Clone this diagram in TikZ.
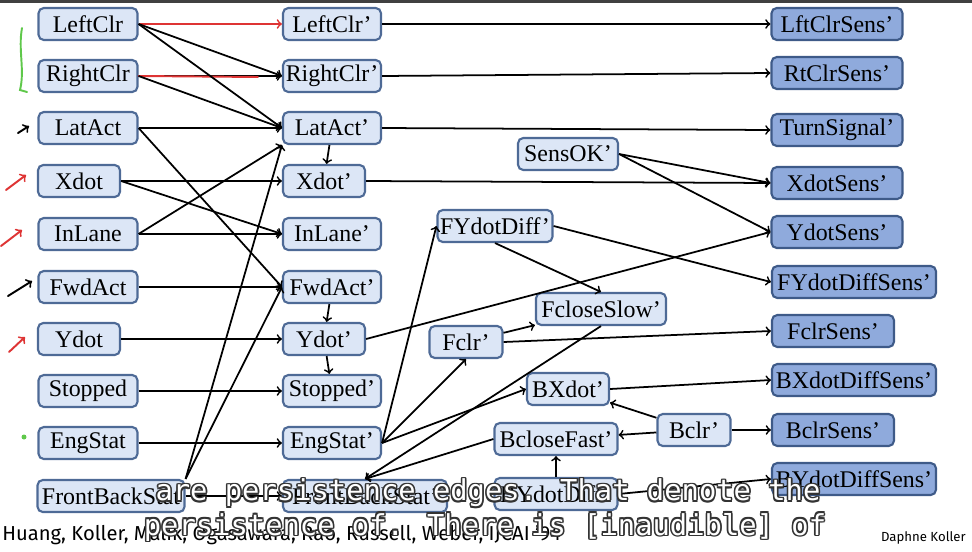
\documentclass[tikz,border=0pt]{standalone}
\usepackage{fontspec}
\setmainfont{Liberation Serif}
\newfontfamily\citefont{Fira Sans}
\newfontfamily\capfont{DejaVu Sans Mono}
\usepackage{xcolor}
\usepackage{tikz}
\usetikzlibrary{calc}

\definecolor{hidfill}{RGB}{220,230,246}
\definecolor{hidline}{RGB}{78,106,150}
\definecolor{sensfill}{RGB}{143,170,220}
\definecolor{sensline}{RGB}{62,90,136}
\definecolor{inkred}{RGB}{222,52,52}
\definecolor{inkgreen}{RGB}{95,200,75}

% one subtitle line: white text with a dark rim
\newcommand\capline[2]{%
    \foreach \dx/\dy in {-0.9/0, 0.9/0, 0/-0.9, 0/0.9, -0.7/-0.7, 0.7/0.7, -0.7/0.7, 0.7/-0.7}
        \node[subtl, text=black!80, xshift=\dx pt, yshift=\dy pt] at (#1) {#2};
    \node[subtl, text=white] at (#1) {#2};}

\begin{document}
\begin{tikzpicture}[x=0.02cm, y=-0.02cm, >=to,
    box/.style={draw=hidline, fill=hidfill, line width=1.2pt, rounded corners=3pt,
        minimum height=0.64cm, inner xsep=1.5pt, inner ysep=0pt,
        font=\fontsize{13.6}{16}\selectfont},
    sens/.style={box, draw=sensline, fill=sensfill},
    wd/.style={minimum width=#1*0.02cm},
    link/.style={->, line width=1pt},
    pen/.style={line width=1.1pt, line cap=round},
    subtl/.style={font=\capfont\fontsize{16.4}{18}\selectfont, inner sep=0pt}]
    \useasboundingbox (0,0) rectangle (972,551);
    \fill[black!75] (0,0) rectangle (972,3);

    % 1. Lat thoi diem t
    \node[box, wd=99] (lclr) at (88,24) {LeftClr};
    \node[box, wd=99] (rclr) at (88,76) {RightClr};
    \node[box, wd=99] (lat) at (88,128) {LatAct};
    \node[box, wd=82] (xd) at (79,181) {Xdot};
    \node[box, wd=99] (inl) at (88,234) {InLane};
    \node[box, wd=99] (fwd) at (88,287) {FwdAct};
    \node[box, wd=82] (yd) at (79,339) {Ydot};
    \node[box, wd=99] (stop) at (88,391) {Stopped};
    \node[box, wd=99] (eng) at (88,443) {EngStat};
    \node[box, wd=147] (fbs) at (111,496) {FrontBackStat};

    % Lat thoi diem t+1
    \node[box, wd=98] (lclrp) at (332,24) {LeftClr'};
    \node[box, wd=98] (rclrp) at (332,76) {RightClr'};
    \node[box, wd=98] (latp) at (332,128) {LatAct'};
    \node[box, wd=82] (xdp) at (324,181) {Xdot'};
    \node[box, wd=98] (inlp) at (332,234) {InLane'};
    \node[box, wd=98] (fwdp) at (332,287) {FwdAct'};
    \node[box, wd=82] (ydp) at (324,339) {Ydot'};
    \node[box, wd=98] (stopp) at (332,391) {Stopped'};
    \node[box, wd=98] (engp) at (332,443) {EngStat'};
    \node[box, wd=164] (fbsp) at (365,496) {FrontBackStat'};

    \node[box, wd=100] (sok) at (568,154) {SensOK'};
    \node[box, wd=115] (fyd) at (495,226) {FYdotDiff'};
    \node[box, wd=130] (fcs) at (601,309) {FcloseSlow'};
    \node[box, wd=73] (fclr) at (466,342) {Fclr'};
    \node[box, wd=82] (bxd) at (568,389) {BXdot'};
    \node[box, wd=123] (bcf) at (556,439) {BcloseFast'};
    \node[box, wd=73] (bclr) at (694,430) {Bclr'};
    \node[box, wd=123] (byd) at (556,494) {BYdotDiff'};

    % 2. Cac cam bien
    \node[sens, wd=131] (lclrs) at (837,24) {LftClrSens'};
    \node[sens, wd=131] (rclrs) at (837,73) {RtClrSens'};
    \node[sens, wd=131] (turn) at (837,130) {TurnSignal'};
    \node[sens, wd=131] (xds) at (837,183) {XdotSens'};
    \node[sens, wd=131] (yds) at (837,232) {YdotSens'};
    \node[sens, wd=164] (fyds) at (854,282) {FYdotDiffSens'};
    \node[sens, wd=122] (fclrs) at (833,331) {FclrSens'};
    \node[sens, wd=164] (bxds) at (854,380) {BXdotDiffSens'};
    \node[sens, wd=122] (bclrs) at (833,430) {BclrSens'};
    \node[sens, wd=164] (byds) at (854,479) {BYdotDiffSens'};

    % 3. Cung persistence va cung giua hai lat
    \draw[link, inkred] (lclr) -- (lclrp);
    \draw[link] (rclr) -- (rclrp);
    \coordinate (redend) at (258,77);
    \draw[pen, inkred] (rclr.east) -- (redend);
    \foreach \a in {lat, xd, inl, fwd, yd, stop, eng, fbs}
        \draw[link] (\a) -- (\a p);
    \draw[link] (lclr.east) -- (rclrp.west);
    \draw[link] (lclr.east) -- (latp.west);
    \draw[link] (rclr.east) -- (latp.west);
    \draw[link] (lat.east) -- (fwdp.west);
    \draw[link] (xd.east) -- (inlp.west);
    \draw[link] (inl.east) -- (latp.south west);
    \draw[link] (fbs.north east) -- (latp.south west);
    \draw[link] (fbs.north east) -- (fwdp.west);

    % Cung trong lat t+1
    \draw[link] (latp) -- (xdp);
    \draw[link] (fwdp) -- (ydp);
    \draw[link] (ydp) -- (stopp);
    \draw[link] (engp.east) -- (fyd.west);
    \draw[link] (engp.east) -- (fclr.south);
    \draw[link] (engp.east) -- (bxd.west);
    \draw[link] (fyd.south) -- (fcs.north);
    \draw[link] (fclr) -- (fcs);
    \draw[link] (fcs.south) -- (fbsp.north);
    \draw[link] (bcf.west) -- (fbsp.north);
    \draw[link] (bclr) -- (bxd);
    \draw[link] (bclr) -- (bcf);
    \draw[link] (byd) -- (bcf);
    \foreach \a/\b in {lclrp/lclrs, rclrp/rclrs, latp/turn, xdp/xds, sok/xds, sok/yds,
        ydp/yds, fyd/fyds, fclr/fclrs, bxd/bxds, bclr/bclrs, byd/byds}
        \draw[link] (\a.east) -- (\b.west);

    % Net but ve tay ben trai
    \draw[pen, inkgreen] (22,28) .. controls (18,50) and (25,70) .. (20,90) -- (27,92);
    \draw[pen, ->] (18,133) -- (29,126);
    \draw[pen, inkred, ->] (6,190) -- (26,175);
    \draw[pen, inkred, ->] (1,246) -- (22,230);
    \draw[pen, ->] (8,296) -- (32,281);
    \draw[pen, inkred, ->] (9,352) -- (25,337);
    \fill[inkgreen] (24,437) circle[radius=0.05cm];

    % 4. Chu thich
    \node[anchor=west, inner sep=0pt, font=\citefont\fontsize{11.5}{13}\selectfont] (cite)
        at (2,535) {Huang, Koller, Malik, Ogasawara, Rao, Russell, Weber, IJCAI ’94};
    \node[anchor=east, inner sep=0pt, font=\citefont\fontsize{7.5}{9}\selectfont] (dk)
        at (966,538) {Daphne Koller};
    \capline{488,493}{are persistence edges. That denote the}
    \capline{485,527}{persistence of. There is [inaudible] of}
\end{tikzpicture}
\end{document}
